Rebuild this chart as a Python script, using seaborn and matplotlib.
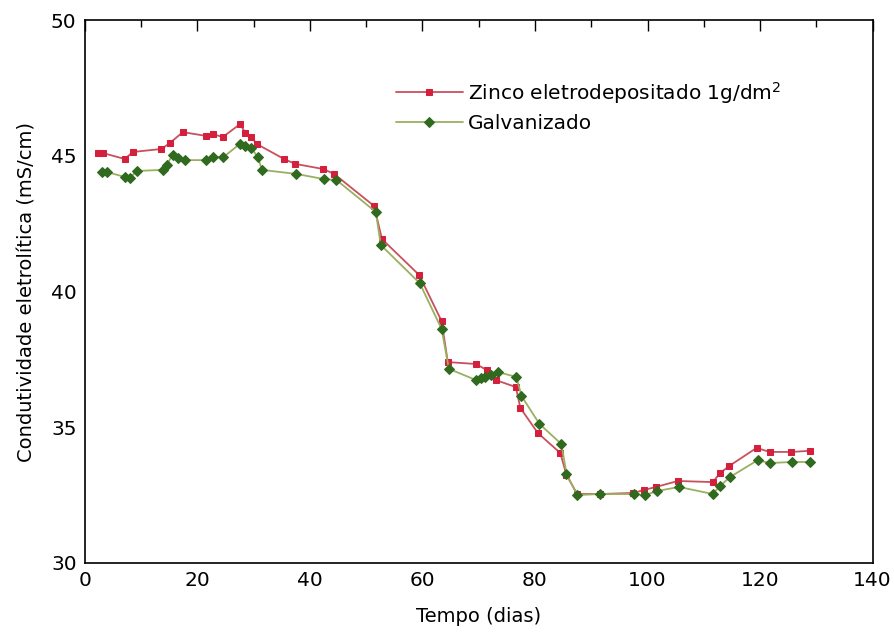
import numpy as np
import pandas as pd
import matplotlib
matplotlib.use('Agg')
import matplotlib.pyplot as plt
from matplotlib.ticker import MultipleLocator
import seaborn as sns

# Zinco eletrodepositado 1g/dm2
zinco_dias = [2.3, 3.2, 7.1, 8.5, 13.6, 15.1, 17.4, 21.6, 22.7, 24.5, 27.6, 28.5, 29.6, 30.5,
              35.4, 37.4, 42.4, 44.3, 51.4, 52.8, 59.4, 63.4, 64.5, 69.5, 71.4, 73.0, 76.6,
              77.4, 80.5, 84.5, 85.6, 87.5, 91.6, 97.5, 99.4, 101.5, 105.4, 111.6, 112.9,
              114.5, 119.4, 121.7, 125.5, 128.8]
zinco_cond = [45.10, 45.10, 44.88, 45.14, 45.25, 45.47, 45.87, 45.73, 45.80, 45.69, 46.17, 45.84,
              45.69, 45.44, 44.88, 44.70, 44.51, 44.33, 43.15, 41.93, 40.61, 38.91, 37.40, 37.33,
              37.11, 36.74, 36.48, 35.71, 34.79, 34.05, 33.24, 32.54, 32.54, 32.58, 32.69, 32.80,
              33.02, 32.98, 33.31, 33.57, 34.24, 34.09, 34.09, 34.13]

# Galvanizado
galv_dias = [3.0, 3.9, 7.1, 8.0, 9.2, 13.8, 14.5, 15.6, 16.5, 17.7, 21.6, 22.7, 24.6, 27.5, 28.4,
             29.6, 30.7, 31.5, 37.6, 42.5, 44.7, 51.7, 52.6, 59.5, 63.4, 64.7, 69.5, 70.4, 71.2,
             72.1, 73.5, 76.7, 77.6, 80.8, 84.7, 85.6, 87.5, 91.6, 97.6, 99.6, 101.7, 105.6,
             111.6, 112.9, 114.7, 119.6, 121.7, 125.6, 128.8]
galv_cond = [44.40, 44.40, 44.22, 44.18, 44.44, 44.48, 44.66, 45.03, 44.92, 44.84, 44.84, 44.95,
             44.95, 45.43, 45.36, 45.29, 44.95, 44.48, 44.33, 44.14, 44.11, 42.93, 41.71, 40.31,
             38.62, 37.15, 36.74, 36.81, 36.85, 36.92, 37.03, 36.85, 36.15, 35.12, 34.38, 33.28,
             32.50, 32.54, 32.54, 32.50, 32.65, 32.80, 32.54, 32.84, 33.17, 33.79, 33.68, 33.72,
             33.72]

sns.set_style('white')
plt.rcParams['font.family'] = ['DejaVu Sans']
plt.rcParams['text.color'] = 'black'
plt.rcParams['axes.labelcolor'] = 'black'

zinco = pd.DataFrame({'dias': zinco_dias, 'cond': zinco_cond})
galv = pd.DataFrame({'dias': galv_dias, 'cond': galv_cond})

fig = plt.figure(figsize=(8.94, 6.38), dpi=100)
ax = fig.add_axes([0.095, 0.1176, 0.881, 0.851])

sns.lineplot(data=zinco, x='dias', y='cond', ax=ax, color='#c8505e', lw=1.3,
             marker='s', markersize=5, markerfacecolor='#d4203c', markeredgecolor='#d4203c',
             label='Zinco eletrodepositado 1g/dm$^2$')
sns.lineplot(data=galv, x='dias', y='cond', ax=ax, color='#9ab060', lw=1.3,
             marker='D', markersize=5, markerfacecolor='#2f6a1f', markeredgecolor='#2f6a1f',
             label='Galvanizado')

ax.set_xlim(0, 140)
ax.set_ylim(30, 50)
ax.xaxis.set_major_locator(MultipleLocator(20))
ax.xaxis.set_minor_locator(MultipleLocator(10))
ax.yaxis.set_major_locator(MultipleLocator(5))
ax.yaxis.set_minor_locator(MultipleLocator(2.5))
ax.tick_params(which='both', direction='in', top=True, right=False, labelsize=14.5,
               colors='black', pad=6)
ax.tick_params(which='major', length=8, width=1)
ax.tick_params(which='minor', length=5, width=1)
for s in ax.spines.values():
    s.set_color('black')
    s.set_linewidth(1.2)

ax.set_xlabel('Tempo (dias)', fontsize=14, labelpad=12)
ax.set_ylabel('Condutividade eletrolítica (mS/cm)', fontsize=14, labelpad=10)

ax.legend(loc='upper left', bbox_to_anchor=(0.385, 0.905), frameon=False, fontsize=14.5,
          handlelength=3.3, handletextpad=0.25, labelspacing=0.4, borderaxespad=0)

fig.savefig('out.png', dpi=100)
